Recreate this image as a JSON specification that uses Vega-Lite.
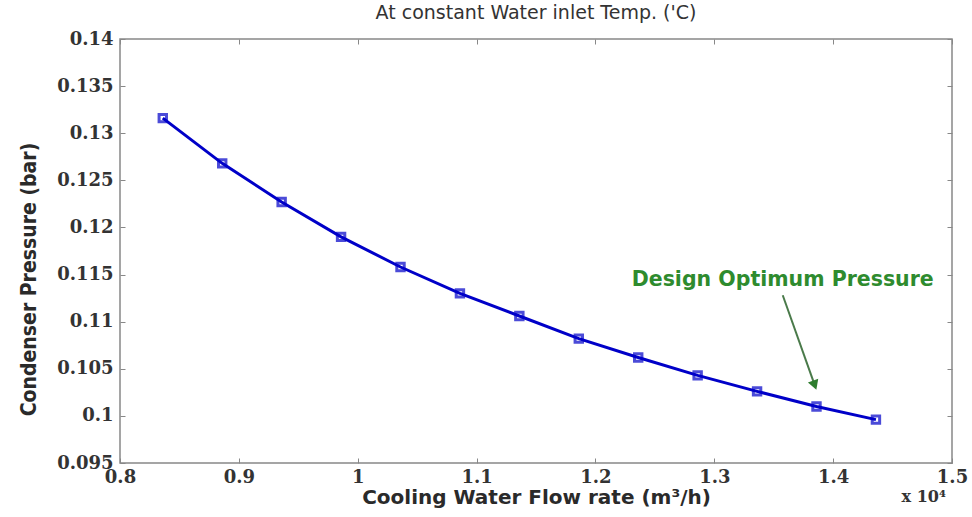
{
  "$schema": "https://vega.github.io/schema/vega-lite/v6.json",
  "width": 832,
  "height": 424,
  "autosize": "none",
  "padding": {"left": 120, "top": 39, "right": 20, "bottom": 54},
  "background": "white",
  "title": {"text": "At constant Water inlet Temp. ('C)", "font": "DejaVu Sans", "fontSize": 19, "fontWeight": "normal", "color": "#333333", "anchor": "middle", "offset": 7},
  "config": {"view": {"stroke": "#888888", "strokeWidth": 1.5}},
  "datasets": {
    "curve": [
      {"flow_1e4": 0.836, "pressure": 0.1316},
      {"flow_1e4": 0.886, "pressure": 0.1268},
      {"flow_1e4": 0.936, "pressure": 0.1227},
      {"flow_1e4": 0.986, "pressure": 0.1190},
      {"flow_1e4": 1.036, "pressure": 0.1158},
      {"flow_1e4": 1.086, "pressure": 0.1130},
      {"flow_1e4": 1.136, "pressure": 0.1106},
      {"flow_1e4": 1.186, "pressure": 0.1082},
      {"flow_1e4": 1.236, "pressure": 0.1062},
      {"flow_1e4": 1.286, "pressure": 0.1043},
      {"flow_1e4": 1.336, "pressure": 0.1026},
      {"flow_1e4": 1.386, "pressure": 0.1010},
      {"flow_1e4": 1.436, "pressure": 0.0996}
    ],
    "label": [{"x": 1.3576, "y": 0.1144, "text": "Design Optimum Pressure"}],
    "arrow": [{"x": 1.3576, "y": 0.1128, "x2": 1.3845, "y2": 0.10326}],
    "mult": [{"x": 1.5, "y": 0.095, "text": "x 10⁴"}]
  },
  "layer": [
    {
      "data": {"name": "curve"},
      "mark": {"type": "line", "color": "#0000c8", "strokeWidth": 3},
      "encoding": {
        "x": {"field": "flow_1e4", "type": "quantitative", "scale": {"domain": [0.8, 1.5], "nice": false, "zero": false},
          "axis": {"orient": "bottom", "title": "Cooling Water Flow rate (m³/h)", "values": [0.8, 0.9, 1.0, 1.1, 1.2, 1.3, 1.4, 1.5], "format": "~g", "grid": false, "domain": false, "tickSize": -5, "tickColor": "#888888", "labelFont": "DejaVu Serif", "labelFontWeight": "bold", "labelFontSize": 18, "labelColor": "#333333", "labelPadding": 10, "labelFlush": false, "labelOverlap": false, "titleFont": "DejaVu Sans", "titleFontSize": 20, "titleFontWeight": "bold", "titleColor": "#2a2a2a", "titleBaseline": "middle", "titleY": 34}},
        "y": {"field": "pressure", "type": "quantitative", "scale": {"domain": [0.095, 0.14], "nice": false, "zero": false},
          "axis": {"orient": "left", "title": "Condenser Pressure (bar)", "values": [0.095, 0.1, 0.105, 0.11, 0.115, 0.12, 0.125, 0.13, 0.135, 0.14], "format": "~g", "grid": false, "domain": false, "tickSize": -5, "tickColor": "#888888", "labelFont": "DejaVu Serif", "labelFontWeight": "bold", "labelFontSize": 18, "labelColor": "#333333", "labelPadding": 12, "labelFlush": false, "labelOverlap": false, "titleFont": "DejaVu Sans Condensed", "titleFontSize": 21, "titleFontWeight": "bold", "titleColor": "#2a2a2a", "titleBaseline": "middle", "titleX": -91, "titleY": 240}}
      }
    },
    {
      "data": {"name": "curve"},
      "mark": {"type": "point", "shape": "square", "filled": false, "color": "#0000c8", "strokeWidth": 3, "size": 55},
      "encoding": {
        "x": {"field": "flow_1e4", "type": "quantitative", "axis": null},
        "y": {"field": "pressure", "type": "quantitative", "axis": null}
      }
    },
    {
      "data": {"name": "curve"},
      "mark": {"type": "point", "opacity": 0},
      "encoding": {
        "x": {"field": "flow_1e4", "type": "quantitative", "axis": {"orient": "top", "title": null, "labels": false, "values": [0.8, 0.9, 1.0, 1.1, 1.2, 1.3, 1.4, 1.5], "grid": false, "domain": false, "tickSize": -5, "tickColor": "#888888"}},
        "y": {"field": "pressure", "type": "quantitative", "axis": {"orient": "right", "title": null, "labels": false, "values": [0.095, 0.1, 0.105, 0.11, 0.115, 0.12, 0.125, 0.13, 0.135, 0.14], "grid": false, "domain": false, "tickSize": -5, "tickColor": "#888888"}}
      }
    },
    {
      "data": {"name": "arrow"},
      "mark": {"type": "rule", "color": "#4a7a4a", "strokeWidth": 2},
      "encoding": {
        "x": {"field": "x", "type": "quantitative", "axis": null},
        "y": {"field": "y", "type": "quantitative", "axis": null},
        "x2": {"field": "x2"},
        "y2": {"field": "y2"}
      }
    },
    {
      "data": {"name": "arrow"},
      "mark": {"type": "point", "shape": "triangle-down", "filled": true, "color": "#2e7d2e", "size": 120, "angle": 340, "opacity": 1},
      "encoding": {
        "x": {"field": "x2", "type": "quantitative", "axis": null},
        "y": {"field": "y2", "type": "quantitative", "axis": null}
      }
    },
    {
      "data": {"name": "label"},
      "mark": {"type": "text", "font": "DejaVu Sans", "fontSize": 20.5, "fontWeight": "bold", "color": "#2e8b2e", "align": "center", "baseline": "middle"},
      "encoding": {
        "x": {"field": "x", "type": "quantitative", "axis": null},
        "y": {"field": "y", "type": "quantitative", "axis": null},
        "text": {"field": "text"}
      }
    },
    {
      "data": {"name": "mult"},
      "mark": {"type": "text", "font": "DejaVu Serif", "fontSize": 16, "fontWeight": "bold", "color": "#333333", "align": "right", "baseline": "middle", "dy": 34, "dx": -6},
      "encoding": {
        "x": {"field": "x", "type": "quantitative", "axis": null},
        "y": {"field": "y", "type": "quantitative", "axis": null},
        "text": {"field": "text"}
      }
    }
  ],
  "resolve": {"axis": {"x": "independent", "y": "independent"}}
}
